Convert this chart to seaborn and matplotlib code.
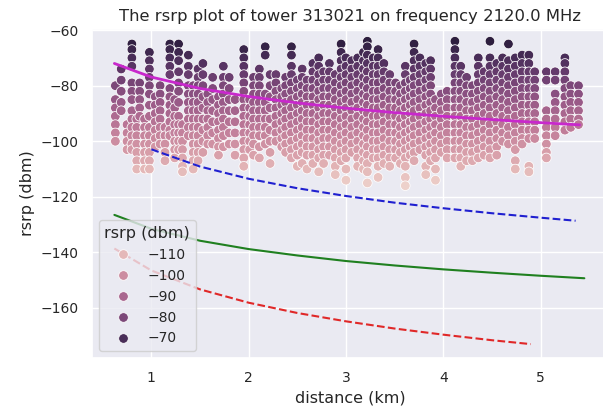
import numpy as np
import pandas as pd
import matplotlib
matplotlib.use("Agg")
import matplotlib.pyplot as plt
import seaborn as sns

# ---- measured points: one column of rsrp readings per distance ----
col_dist = [0.63, 0.69, 0.75, 0.80, 0.85, 0.88, 0.93, 0.98, 1.04, 1.09,
            1.14, 1.19, 1.24, 1.28, 1.32, 1.38, 1.43, 1.48, 1.53, 1.58,
            1.63, 1.69, 1.74, 1.80, 1.86, 1.95, 2.01, 2.05, 2.11, 2.17,
            2.22, 2.28, 2.34, 2.38, 2.44, 2.50, 2.55, 2.60, 2.66, 2.72,
            2.77, 2.83, 2.89, 2.95, 3.00, 3.06, 3.12, 3.18, 3.22, 3.28,
            3.33, 3.39, 3.45, 3.51, 3.56, 3.61, 3.66, 3.70, 3.76, 3.82,
            3.87, 3.92, 3.98, 4.04, 4.12, 4.18, 4.24, 4.30, 4.36, 4.42,
            4.48, 4.55, 4.61, 4.67, 4.74, 4.81, 4.88, 4.94, 5.06, 5.15,
            5.25, 5.31, 5.39]

col_rsrp = [
    [-80, -85, -88, -91, -94, -97, -100],
    [-74, -78, -82, -86, -89],
    [-94, -97, -100, -103],
    [-65, -67, -70, -73, -79, -82, -85, -89, -92, -95, -98, -101, -103],
    [-92, -95, -98, -101, -104, -107, -110],
    [-79, -82, -85, -88, -91],
    [-92, -95, -98, -101, -104, -107, -110],
    [-68, -71, -74, -77, -80, -83, -87, -91, -95, -98, -101, -104, -107, -110],
    [-84, -87, -90, -93, -96, -99, -102],
    [-80, -83, -86, -89, -92, -95, -98, -101],
    [-95, -98, -101, -104, -107],
    [-65, -67, -70, -73, -76, -81, -84, -87, -90, -93, -96, -98],
    [-85, -88, -91, -94, -97, -100, -103, -106],
    [-65, -68, -71, -75, -79, -82, -86, -91, -94, -97, -100, -103],
    [-94, -97, -100, -103, -106, -109, -111],
    [-69, -73, -76, -80, -83, -86, -89, -92, -95, -98],
    [-80, -83, -86, -89, -92, -95, -98, -101, -104, -107, -110],
    [-74, -77, -80, -83, -86, -89, -92, -95, -98, -101, -104, -107],
    [-72, -76, -80, -84, -88, -92, -96, -100, -104],
    [-83, -86, -89, -92, -95, -98, -101],
    [-77, -81, -85, -89, -93, -97, -101],
    [-84, -87, -90, -93, -96, -99, -102, -105],
    [-73, -77, -80, -83, -86, -89, -92, -95, -98, -102],
    [-77, -81, -85, -89, -93, -97, -101],
    [-85, -89, -93, -97, -101, -105],
    [-67, -70, -73, -76, -79, -82, -85, -88, -91, -94, -97, -100, -103, -106, -109],
    [-85, -88, -91, -94, -97, -100, -103],
    [-77, -80, -83, -86, -89, -92, -95, -98, -101, -105],
    [-74, -77, -80, -83, -86, -89, -92, -95, -98, -102, -106],
    [-66, -69, -83, -86, -89, -92, -95, -98, -101],
    [-76, -80, -84, -88, -92, -96, -100, -104, -108],
    [-76, -79, -82, -85, -88, -91, -94, -97, -100],
    [-81, -84, -87, -90, -93, -96, -99, -102],
    [-77, -80, -83, -86, -89, -92, -95, -98, -101, -104],
    [-66, -69, -73, -76, -79, -82, -85, -88, -91, -94, -97, -100, -103, -106],
    [-78, -81, -84, -87, -90, -93, -96, -99, -102, -105, -109],
    [-74, -77, -80, -83, -86, -89, -92, -95, -98, -101, -104, -108],
    [-78, -81, -84, -87, -90, -93, -96, -99, -102, -105, -110],
    [-72, -75, -78, -81, -84, -87, -90, -93, -96, -99, -102, -105, -108],
    [-70, -73, -76, -79, -82, -85, -88, -91, -94, -97, -100, -103, -106, -111],
    [-75, -78, -81, -84, -87, -90, -93, -96, -99, -102, -105, -108],
    [-72, -75, -78, -81, -84, -87, -90, -93, -96, -99, -102, -105],
    [-76, -79, -82, -85, -88, -91, -94, -97, -100, -103, -106, -109, -112],
    [-65, -68, -71, -74, -77, -80, -83, -86, -89, -92, -95, -98, -101, -104, -107],
    [-70, -73, -76, -79, -82, -85, -88, -91, -94, -97, -100, -103, -106, -110, -114],
    [-71, -74, -77, -80, -83, -86, -89, -92, -95, -98, -101, -104],
    [-70, -73, -76, -79, -82, -85, -88, -91, -94, -97, -100, -103, -106, -109],
    [-68, -71, -74, -77, -80, -83, -86, -89, -92, -95, -98, -101, -104, -107, -110],
    [-64, -66, -69, -72, -75, -78, -81, -84, -87, -90, -93, -96, -99, -102, -105, -108, -111, -115],
    [-70, -73, -76, -79, -82, -85, -88, -91, -94, -97, -100, -103, -106],
    [-67, -70, -73, -76, -79, -82, -85, -88, -91, -94, -97, -100, -103, -106, -109, -113],
    [-72, -75, -78, -81, -84, -87, -90, -93, -96, -99, -102, -105, -108],
    [-76, -79, -82, -85, -88, -91, -94, -97, -100, -103, -106, -109],
    [-79, -82, -85, -88, -91, -94, -97, -100, -103, -106],
    [-80, -83, -86, -89, -92, -95, -98, -101, -104, -108],
    [-73, -76, -79, -82, -85, -88, -91, -94, -97, -100, -103, -106, -109, -113, -116],
    [-78, -81, -84, -87, -90, -93, -96, -99, -102, -105],
    [-65, -68, -71, -74, -77, -80, -83, -86, -89, -92, -95, -98, -101, -104, -107],
    [-70, -73, -76, -79, -82, -85, -88, -91, -94, -97, -100, -103],
    [-72, -75, -78, -81, -84, -87, -90, -93, -96, -99, -102, -105, -109, -112],
    [-71, -74, -77, -80, -83, -86, -89, -92, -95, -98, -101, -104, -107],
    [-85, -88, -91, -94, -97, -100, -103, -106, -110, -114],
    [-83, -86, -89, -92, -95, -98, -101, -104],
    [-82, -85, -88, -91, -94, -97, -100, -103, -106],
    [-64, -67, -70, -73, -76, -79, -82, -85, -88, -91, -94, -97, -100, -103, -106],
    [-73, -76, -79, -82, -85, -88, -91, -94, -97, -100, -103, -106, -109],
    [-77, -80, -83, -86, -89, -92, -95, -98, -101, -104, -107],
    [-80, -83, -86, -89, -92, -95, -98, -101, -104, -107],
    [-70, -73, -76, -79, -82, -85, -88, -91, -94, -97, -100, -103, -106],
    [-75, -78, -81, -84, -87, -90, -93, -96, -99, -102, -105],
    [-64, -70, -73, -76, -79, -82, -85, -88, -91, -94, -97, -100, -103, -106],
    [-72, -75, -78, -81, -84, -87, -90, -93, -96, -99, -102, -105],
    [-70, -73, -76, -79, -82, -85, -88, -91, -94, -97, -100],
    [-65, -71, -74, -77, -80, -83, -86, -89, -92, -95, -98, -101],
    [-70, -73, -76, -79, -82, -85, -88, -91, -94, -97, -100, -103, -107, -110],
    [-69, -72, -75, -78, -81, -84, -87, -90, -93, -96, -99, -101],
    [-69, -72, -75, -78, -81, -84, -87, -90, -93, -96, -99, -109, -111],
    [-75, -78, -81, -84, -87, -90, -93, -96, -99],
    [-75, -78, -89, -92, -95, -98, -101, -104, -106],
    [-75, -78, -83, -86, -89, -92, -95, -98],
    [-70, -72, -75, -78, -81, -84, -87, -90, -93, -96],
    [-80, -83, -86, -89, -92, -95],
    [-80, -83, -86, -89, -92, -94],
]

# ---- model curves ----
fit_dist = [0.62, 1.0, 1.5, 2.0, 2.5, 3.0, 3.5, 4.0, 4.5, 5.0, 5.4]
fit_rsrp = [-72.0, -76.9, -81.0, -83.9, -86.2, -88.1, -89.7, -91.0, -92.2, -93.3, -94.1]

blue_dist = [1.0, 1.5, 2.0, 2.5, 3.0, 3.5, 4.0, 4.5, 5.0, 5.36]
blue_rsrp = [-102.9, -109.1, -113.5, -116.9, -119.7, -122.1, -124.1, -125.9, -127.5, -128.6]

green_dist = [0.62, 1.0, 1.5, 2.0, 2.5, 3.0, 3.5, 4.0, 4.5, 5.0, 5.45]
green_rsrp = [-126.5, -131.5, -135.8, -138.8, -141.1, -143.1, -144.7, -146.1, -147.3, -148.4, -149.3]

red_dist = [0.62, 1.0, 1.5, 2.0, 2.5, 3.0, 3.5, 4.0, 4.5, 4.9]
red_rsrp = [-138.6, -146.5, -153.3, -158.1, -161.8, -164.8, -167.4, -169.6, -171.6, -173.0]

sns.set_theme(style="darkgrid")
plt.rcParams['font.family'] = ['DejaVu Sans']

rows = [(d, r) for d, col in zip(col_dist, col_rsrp) for r in col]
df = pd.DataFrame(rows, columns=["distance (km)", "rsrp (dbm)"])

fig = plt.figure(figsize=(6.03, 4.12), dpi=100)
ax = fig.add_axes([92 / 603, 1 - 358 / 412, (607.7 - 92) / 603, (358 - 29) / 412])

sns.scatterplot(data=df, x="distance (km)", y="rsrp (dbm)", hue="rsrp (dbm)",
                s=48, ax=ax)
sns.lineplot(x=fit_dist, y=fit_rsrp, color="#c828cc", lw=2.0, ax=ax, legend=False)
sns.lineplot(x=blue_dist, y=blue_rsrp, color="#2020d0", lw=1.5, ls="--", ax=ax, legend=False)
sns.lineplot(x=green_dist, y=green_rsrp, color="#208020", lw=1.5, ax=ax, legend=False)
sns.lineplot(x=red_dist, y=red_rsrp, color="#e02828", lw=1.5, ls="--", ax=ax, legend=False)

ax.set_xlim(0.39, 5.69)
ax.set_ylim(-178, -59.6)
ax.set_xticks([1, 2, 3, 4, 5])
ax.set_yticks([-160, -140, -120, -100, -80, -60])
ax.tick_params(labelsize=10)
ax.set_xlabel("distance (km)", fontsize=11.5)
ax.set_ylabel("rsrp (dbm)", fontsize=11.5)
ax.set_title("The rsrp plot of tower 313021 on frequency 2120.0 MHz", fontsize=11.8)

sns.move_legend(ax, "lower left", fontsize=10, title_fontsize=11.5)

fig.savefig("out.png", dpi=100)
